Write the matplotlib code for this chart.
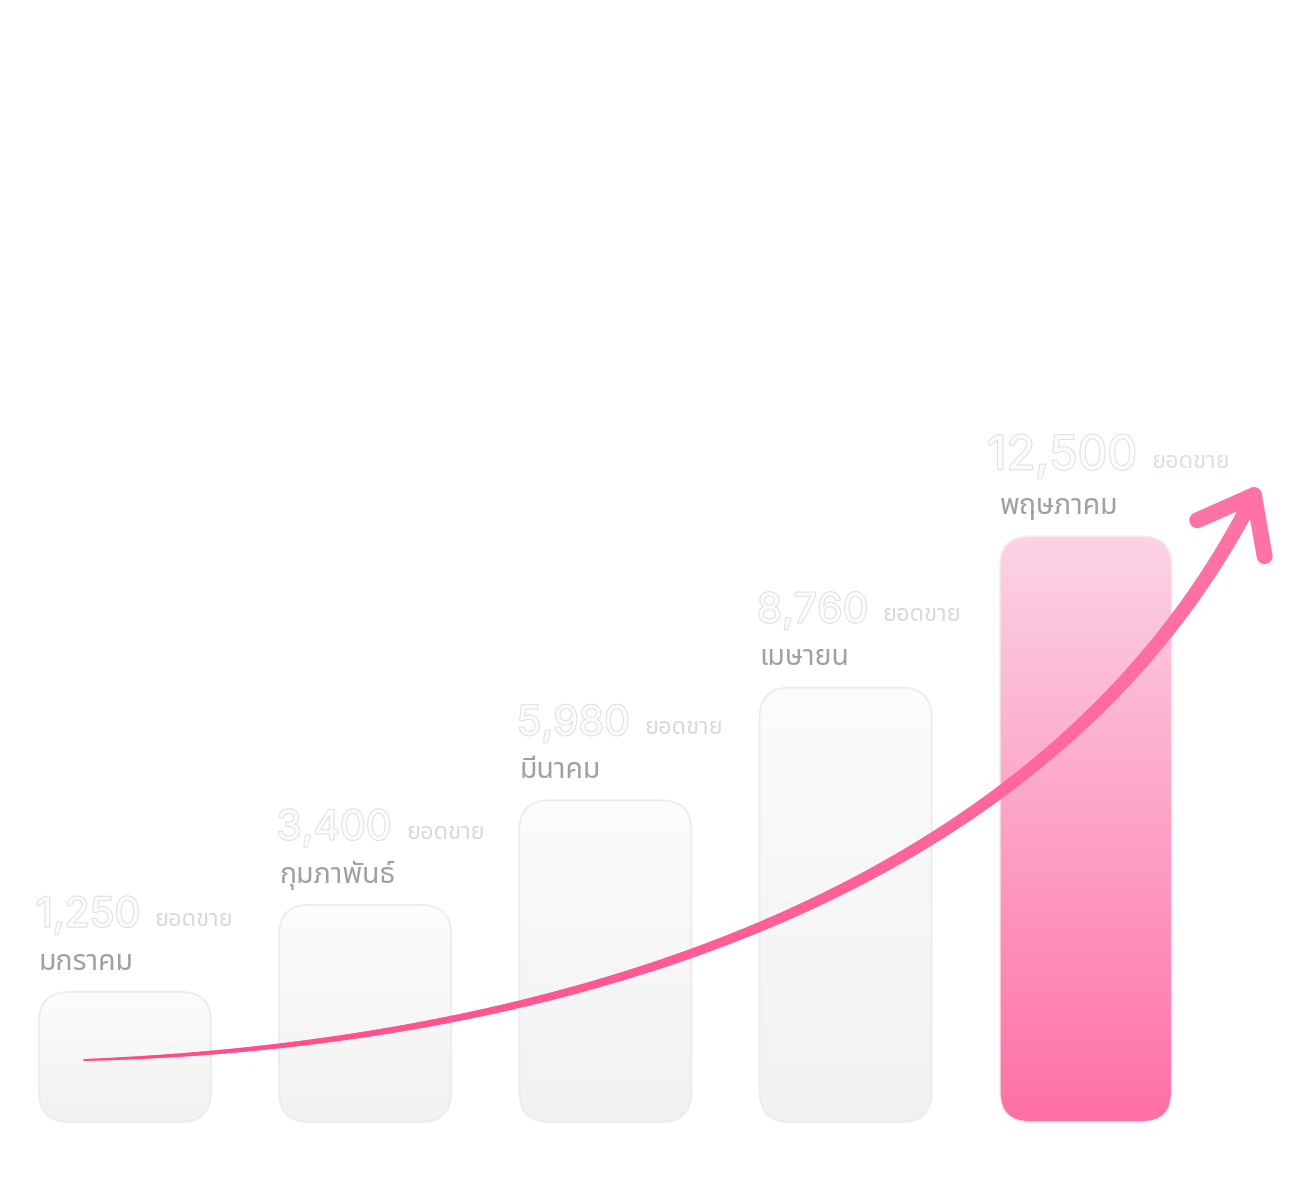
import numpy as np
import matplotlib
matplotlib.use("Agg")
import matplotlib.pyplot as plt
from matplotlib import font_manager
from matplotlib.patches import FancyBboxPatch
from matplotlib.collections import LineCollection
import matplotlib.patheffects as pe

months = ["มกราคม", "กุมภาพันธ์", "มีนาคม", "เมษายน", "พฤษภาคม"]
sales = [1250, 3400, 5980, 8760, 12500]
unit_label = "ยอดขาย"

# trend arrow (cubic bezier control points, data coords)
trend_x = [-0.17, 1.77, 3.85, 4.70]
trend_y = [-430, -60, 3520, 13510]

# pick a loopless thai font that is installed
installed = {f.name for f in font_manager.fontManager.ttflist}
thai = next((n for n in ["Noto Sans Thai", "IBM Plex Sans Thai", "Sarabun", "Loma"] if n in installed), "DejaVu Sans")

fig = plt.figure(figsize=(13.14, 11.91), dpi=100)
ax = fig.add_axes([0, 0, 1, 1])
ax.set_xlim(-0.520, 4.950)
ax.set_ylim(-3663, 25730)
ax.axis("off")

base = -1960
w = 0.716
aspect = 5928

fig.canvas.draw()
renderer = fig.canvas.get_renderer()

for i, v in enumerate(sales):
    last = i == len(sales) - 1
    x0 = i - w / 2
    h = v - base
    box = FancyBboxPatch((x0, base), w, h, boxstyle="round,pad=0,rounding_size=0.125",
                         mutation_aspect=aspect, facecolor="none",
                         edgecolor="#f6eef2" if last else "#ebebeb", lw=1.2, zorder=3)
    ax.add_patch(box)
    grad = np.linspace(0, 1, 256)[:, None, None]
    if last:
        top = np.array([0.985, 0.83, 0.895])
        bot = np.array([1.0, 0.44, 0.645])
    else:
        top = np.array([0.988, 0.988, 0.988])
        bot = np.array([0.948, 0.948, 0.948])
    img = top * (1 - grad) + bot * grad
    im = ax.imshow(img, extent=[x0, x0 + w, base, v], aspect="auto", origin="upper",
                   zorder=2, interpolation="bilinear")
    im.set_clip_path(box)

    num = ax.annotate(f"{v:,}", (x0, v), xytext=(-9 if last else -2, 48 if last else 47),
                      textcoords="offset points", fontsize=34 if last else 29.5,
                      color="#fcfcfc", family=["Inter", "DejaVu Sans"],
                      ha="left", va="baseline", zorder=4,
                      path_effects=[pe.withStroke(linewidth=1.5, foreground="#e0e0e0")])
    bb = num.get_window_extent(renderer)
    ax.annotate(unit_label, (bb.x1 + 14, bb.y0 + (5 if last else 3)), xycoords="figure pixels",
                fontsize=17, color="#e6dbe0" if last else "#d9d9d9", family=[thai, "DejaVu Sans"],
                ha="left", va="bottom", zorder=4)
    ax.annotate(months[i], (x0, v), xytext=(0, 16), textcoords="offset points",
                fontsize=20.5, color="#a0a0a0", family=[thai, "DejaVu Sans"],
                ha="left", va="baseline", zorder=4)

# arrow body: tapering bezier
t = np.linspace(0, 1, 400)
px, py = trend_x, trend_y
bx = (1 - t) ** 3 * px[0] + 3 * (1 - t) ** 2 * t * px[1] + 3 * (1 - t) * t ** 2 * px[2] + t ** 3 * px[3]
by = (1 - t) ** 3 * py[0] + 3 * (1 - t) ** 2 * t * py[1] + 3 * (1 - t) * t ** 2 * py[2] + t ** 3 * py[3]
pts = np.column_stack([bx, by])
segs = np.stack([pts[:-1], pts[1:]], axis=1)
tm = (t[:-1] + t[1:]) / 2
lws = 1.3 + 9.5 * tm ** 0.75
c0 = np.array([1.0, 0.29, 0.52])
c1 = np.array([1.0, 0.45, 0.65])
cols = c0 * (1 - tm[:, None]) + c1 * tm[:, None]
lc = LineCollection(segs, linewidths=lws, colors=cols, capstyle="round", zorder=5)
ax.add_collection(lc)

# arrow head
disp = ax.transData.transform(pts[-12:])
tip = disp[-1]
d = disp[-12] - tip
d = d / np.hypot(*d)
for ang in (38, -38):
    a = np.radians(ang)
    rot = np.array([[np.cos(a), -np.sin(a)], [np.sin(a), np.cos(a)]])
    end = tip + rot @ d * 62
    seg = ax.transData.inverted().transform([tip, end])
    ax.plot(seg[:, 0], seg[:, 1], color="#ff72a6", lw=11.5, solid_capstyle="round", zorder=6)

fig.savefig("out.png", dpi=100)
